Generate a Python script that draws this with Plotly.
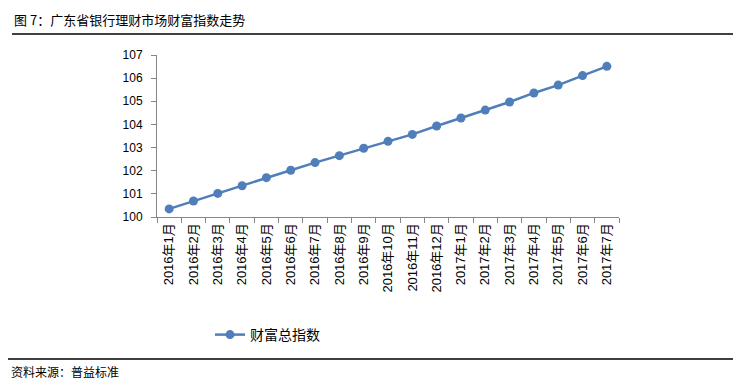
import plotly.graph_objects as go

months = ["2016年1月", "2016年2月", "2016年3月", "2016年4月", "2016年5月", "2016年6月",
          "2016年7月", "2016年8月", "2016年9月", "2016年10月", "2016年11月", "2016年12月",
          "2017年1月", "2017年2月", "2017年3月", "2017年4月", "2017年5月", "2017年6月", "2017年7月"]
wealth_index = [100.35, 100.69, 101.02, 101.35, 101.70, 102.02, 102.35, 102.65, 102.97, 103.27,
                103.57, 103.93, 104.28, 104.62, 104.97, 105.36, 105.70, 106.11, 106.51]
series_name = "财富总指数"
title_text = "图 7：广东省银行理财市场财富指数走势"
source_text = "资料来源：普益标准"

W, H = 745, 389
L, R, T, B = 157, 126, 55, 172
pw = W - L - R
ph = H - T - B

def px(x):
    return (x - L) / pw

def py(y):
    return (H - B - y) / ph

font_main = "Liberation Sans, Arial, Noto Sans CJK SC, sans-serif"
font_cjk = "Noto Sans CJK SC, Microsoft YaHei, sans-serif"
blue = "#4F7EBB"

fig = go.Figure()
fig.add_trace(go.Scatter(
    x=months, y=wealth_index, mode="lines+markers", name=series_name,
    line=dict(color=blue, width=2.5),
    marker=dict(color=blue, size=9),
))

fig.update_layout(
    width=W, height=H,
    margin=dict(l=L, r=R, t=T, b=B),
    paper_bgcolor="white", plot_bgcolor="white",
    showlegend=True,
    legend=dict(orientation="h", xref="container", yref="container",
                x=210 / W, xanchor="left", y=1 - 335 / H, yanchor="middle",
                font=dict(family=font_cjk, size=14, color="#000"),
                itemwidth=30),
    xaxis=dict(
        type="category", showline=True, linecolor="#868686", linewidth=1,
        ticks="outside", tickson="boundaries", ticklen=5, tickcolor="#868686",
        tickangle=-90, showgrid=False, zeroline=False,
        tickfont=dict(family=font_main, size=13, color="#000"),
        range=[-0.5, len(months) - 0.5],
    ),
    yaxis=dict(
        range=[100, 107], dtick=1, showline=True, linecolor="#868686", linewidth=1,
        ticks="outside", ticklen=5, tickcolor="#868686", showgrid=False, zeroline=False,
        tickfont=dict(family=font_main, size=12, color="#000"), ticklabelstandoff=6,
    ),
    annotations=[
        dict(text=title_text, xref="paper", yref="paper", x=px(12), y=py(20),
             xanchor="left", yanchor="middle", showarrow=False,
             font=dict(family=font_cjk, size=13, color="#000")),
        dict(text=source_text, xref="paper", yref="paper", x=px(9), y=py(371),
             xanchor="left", yanchor="middle", showarrow=False,
             font=dict(family=font_cjk, size=12, color="#000")),
    ],
    shapes=[
        dict(type="line", xref="paper", yref="paper", x0=px(12), x1=px(733),
             y0=py(34), y1=py(34), line=dict(color="#000", width=1.5)),
        dict(type="line", xref="paper", yref="paper", x0=px(8), x1=px(733),
             y0=py(359), y1=py(359), line=dict(color="#000", width=1.5)),
    ],
)

fig.write_html("out.html", config={"displayModeBar": False},
               post_script="document.body.style.margin='0';")
